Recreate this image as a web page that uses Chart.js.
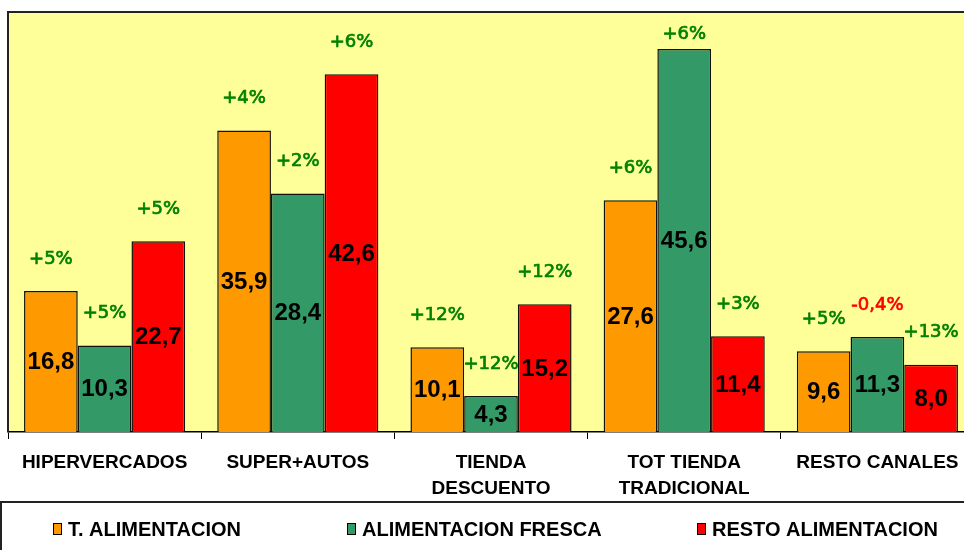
<!DOCTYPE html>
<html>
<head>
<meta charset="utf-8">
<script src="https://cdn.jsdelivr.net/npm/chart.js@4/dist/chart.umd.min.js"></script>
<style>
  html, body { margin: 0; padding: 0; background: #fff; overflow: hidden; }
  #wrap { width: 980px; height: 550px; }
</style>
</head>
<body>
<div id="wrap"><canvas id="chart" width="980" height="550"></canvas></div>
<script>
  // Chart data
  const categories = [
    "HIPERVERCADOS",
    "SUPER+AUTOS",
    ["TIENDA", "DESCUENTO"],
    ["TOT TIENDA", "TRADICIONAL"],
    "RESTO CANALES",
  ];
  const seriesNames = ["T. ALIMENTACION", "ALIMENTACION FRESCA", "RESTO ALIMENTACION"];
  const totalAlim = [16.8, 35.9, 10.1, 27.6, 9.6];
  const alimFresca = [10.3, 28.4, 4.3, 45.6, 11.3];
  const restoAlim = [22.7, 42.6, 15.2, 11.4, 8.0];
  // growth vs previous period (%)
  const growthTotal = [5, 4, 12, 6, 5];
  const growthFresca = [5, 2, 12, 6, -0.4];
  const growthResto = [5, 6, 12, 3, 13];

  const colors = ["#FF9900", "#339966", "#FF0000"];
  const growth = [growthTotal, growthFresca, growthResto];
  // legend item left edges (layout only)
  const legendX = [53, 347, 697];

  const fmtValue = (v) => v.toFixed(1).replace(".", ",");
  const fmtGrowth = (v) => (v > 0 ? "+" : "") + String(v).replace(".", ",") + "%";

  // Yellow plot background + frame
  const plotBackground = {
    id: "plotBackground",
    beforeDraw(chart) {
      const { ctx, chartArea: a } = chart;
      ctx.save();
      ctx.fillStyle = "#FFFF99";
      ctx.fillRect(a.left, a.top, a.right - a.left, a.bottom - a.top);
      ctx.restore();
    },
    afterDraw(chart) {
      const { ctx, chartArea: a } = chart;
      ctx.save();
      ctx.strokeStyle = "#222";
      ctx.lineWidth = 2;
      ctx.beginPath();
      ctx.moveTo(a.left, a.bottom);
      ctx.lineTo(a.left, a.top);
      ctx.lineTo(a.right, a.top);
      ctx.stroke();
      ctx.restore();
    },
  };

  // Values inside bars, growth above bars
  const barLabels = {
    id: "barLabels",
    afterDatasetsDraw(chart) {
      const { ctx, chartArea: a } = chart;
      ctx.save();
      ctx.textAlign = "center";
      ctx.textBaseline = "middle";
      chart.data.datasets.forEach((ds, i) => {
        chart.getDatasetMeta(i).data.forEach((bar, j) => {
          ctx.font = "bold 24px 'Liberation Sans', Arial, sans-serif";
          ctx.fillStyle = "#000";
          ctx.fillText(fmtValue(ds.data[j]), bar.x, (bar.y + bar.base) / 2 + 1);

          const g = growth[i][j];
          const col = g < 0 ? "#FF0000" : "#008000";
          ctx.font = "18px 'DejaVu Sans', Verdana, sans-serif";
          ctx.fillStyle = col;
          ctx.strokeStyle = col;
          ctx.lineWidth = 0.7;
          const y = Math.max(bar.y - 32, a.top + 22);
          ctx.fillText(fmtGrowth(g), bar.x, y);
          ctx.strokeText(fmtGrowth(g), bar.x, y);
        });
      });
      ctx.restore();
    },
  };

  // Boxed legend under the axis
  const boxLegend = {
    id: "boxLegend",
    afterDraw(chart) {
      const { ctx } = chart;
      const top = 502;
      ctx.save();
      ctx.strokeStyle = "#222";
      ctx.lineWidth = 2;
      ctx.strokeRect(1, top, chart.width + 10, 100);

      ctx.font = "bold 20px 'Liberation Sans', Arial, sans-serif";
      ctx.textBaseline = "middle";
      const cy = 529;
      chart.data.datasets.forEach((ds, i) => {
        const x = legendX[i];
        ctx.fillStyle = ds.backgroundColor;
        ctx.fillRect(x, cy - 6, 9, 12);
        ctx.strokeStyle = "#000";
        ctx.lineWidth = 1;
        ctx.strokeRect(x + 0.5, cy - 5.5, 8, 11);
        ctx.fillStyle = "#000";
        ctx.textAlign = "left";
        ctx.fillText(ds.label, x + 15, cy + 1);
      });
      ctx.restore();
    },
  };

  new Chart(document.getElementById("chart"), {
    type: "bar",
    data: {
      labels: categories,
      datasets: [totalAlim, alimFresca, restoAlim].map((d, i) => ({
        label: seriesNames[i],
        data: d,
        backgroundColor: colors[i],
        borderColor: "#111",
        borderWidth: 1.5,
        borderSkipped: "bottom",
        categoryPercentage: 0.834,
        barPercentage: 1,
      })),
    },
    options: {
      responsive: false,
      animation: false,
      devicePixelRatio: 1,
      layout: { padding: { top: 12, left: 8, right: 6, bottom: 0 } },
      plugins: {
        legend: { display: false },
        tooltip: { enabled: false },
      },
      scales: {
        x: {
          grid: {
            display: true,
            drawOnChartArea: false,
            drawTicks: true,
            tickLength: 7,
            color: "#000",
            offset: true,
          },
          border: { display: true, color: "#000", width: 1.5 },
          ticks: {
            color: "#000",
            padding: 10,
            maxRotation: 0,
            autoSkip: false,
            font: { family: "'Liberation Sans', Arial, sans-serif", size: 19, weight: "bold", lineHeight: 1.4 },
          },
          afterFit(scale) {
            scale.height = 118;
          },
        },
        y: {
          display: false,
          min: 0,
          max: 50,
        },
      },
    },
    plugins: [plotBackground, barLabels, boxLegend],
  });
</script>
</body>
</html>
